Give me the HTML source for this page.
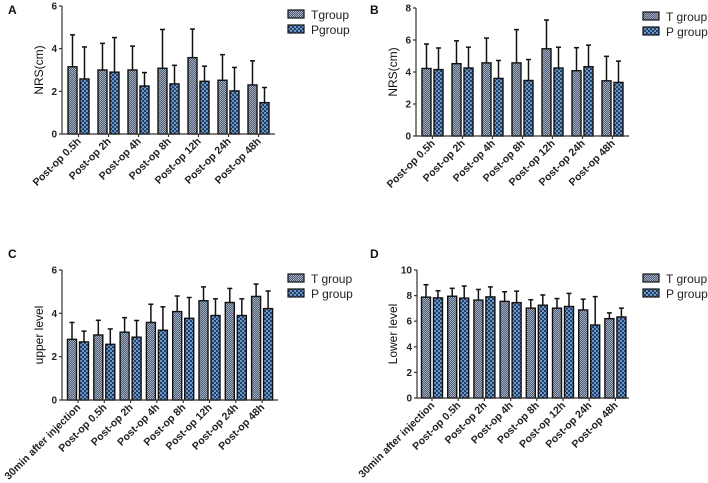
<!DOCTYPE html>
<html><head><meta charset="utf-8">
<style>
html,body{margin:0;padding:0;background:#fff;width:708px;height:483px;overflow:hidden}
svg{display:block;font-family:"Liberation Sans",Arial,sans-serif}
</style></head>
<body>
<svg id="fig" width="708" height="483" viewBox="0 0 708 483">
<defs>
<pattern id="patT" width="2" height="2" patternUnits="userSpaceOnUse">
<rect width="2" height="2" fill="#4e5c74"/><rect width="1" height="1" fill="#a3aec0"/><rect x="1" y="1" width="1" height="1" fill="#a3aec0"/>
</pattern>
<pattern id="patP" width="4" height="4" patternUnits="userSpaceOnUse">
<rect width="4" height="4" fill="#203f6a"/><rect x="0" y="0" width="2" height="2" fill="#6f97c4"/><rect x="2" y="2" width="2" height="2" fill="#6f97c4"/>
</pattern>
</defs>
</svg>
<script>
const catsAB = ["Post-op 0.5h","Post-op 2h","Post-op 4h","Post-op 8h","Post-op 12h","Post-op 24h","Post-op 48h"];
const catsCD = ["30min after injection","Post-op 0.5h","Post-op 2h","Post-op 4h","Post-op 8h","Post-op 12h","Post-op 24h","Post-op 48h"];
const aT = [3.15,3.0,3.0,3.08,3.58,2.52,2.3];
const aTerr = [4.65,4.25,4.12,4.9,4.92,3.72,3.43];
const aP = [2.58,2.9,2.25,2.35,2.47,2.02,1.47];
const aPerr = [4.08,4.52,2.88,3.22,3.18,3.12,2.18];
const bT = [4.22,4.52,4.57,4.57,5.45,4.08,3.45];
const bTerr = [5.75,5.95,6.12,6.65,7.25,5.52,4.98];
const bP = [4.15,4.25,3.6,3.47,4.25,4.33,3.35];
const bPerr = [5.5,5.55,4.72,4.78,5.55,5.68,4.68];
const cT = [2.8,3.0,3.13,3.58,4.08,4.58,4.5,4.78];
const cTerr = [3.58,3.68,3.8,4.42,4.8,5.22,5.15,5.35];
const cP = [2.68,2.57,2.9,3.22,3.77,3.9,3.9,4.22];
const cPerr = [3.18,3.28,3.67,4.3,4.73,4.67,4.67,5.03];
const dT = [7.88,7.95,7.65,7.55,7.02,7.02,6.88,6.2];
const dTerr = [8.85,8.57,8.48,8.3,7.68,7.77,7.72,6.65];
const dP = [7.82,7.8,7.9,7.45,7.25,7.15,5.7,6.33];
const dPerr = [8.38,8.75,8.68,8.35,8.05,8.17,7.92,7.02];
const ticksA = [0,2,4,6], ticksB = [0,2,4,6,8], ticksC = [0,2,4,6], ticksD = [0,2,4,6,8,10];

const NS = "http://www.w3.org/2000/svg";
const svg = document.getElementById('fig');
function mk(tag, attrs, parent, text){
  const e = document.createElementNS(NS, tag);
  for (const k in attrs) e.setAttribute(k, attrs[k]);
  if (text !== undefined) e.textContent = text;
  (parent||svg).appendChild(e);
  return e;
}
function panel(o){
  const g = mk('g', {});
  
  
  const y = v => o.y0 - (v / o.ymax) * (o.y0 - o.y1);
  const n = o.cats.length;
  const xc = i => o.c0 + i * o.step;
  const lt = mk('text', {x:o.lx, y:o.ly, 'font-size':12, 'font-weight':'bold', fill:'#111'}, g, o.letter);
  
  
  for (let i = 0; i < n; i++) {
    const sets = [[o.T[i], o.Te[i], 'url(#patT)', -1, 't'], [o.P[i], o.Pe[i], 'url(#patP)', 1, 'p']];
    for (const s of sets) {
      const bx = s[3] < 0 ? xc(i) - 1.5 - o.bw : xc(i) + 1.5;
      const mid = bx + o.bw / 2;
      const el = mk('line', {x1:mid, x2:mid, y1:y(s[0]), y2:y(s[1]), stroke:'#111', 'stroke-width':1.5}, g);
      
      
      const cap = mk('line', {x1:mid - 2.5, x2:mid + 2.5, y1:y(s[1]), y2:y(s[1]), stroke:'#111', 'stroke-width':1.5}, g);
      
      
      const r = mk('rect', {x:bx, y:y(s[0]), width:o.bw, height:o.y0 - y(s[0]), fill:s[2], stroke:'#111', 'stroke-width':1.4}, g);
      
      
    }
  }
  const ya = mk('line', {x1:o.ax, x2:o.ax, y1:o.y1, y2:o.y0, stroke:'#333', 'stroke-width':1.2}, g);
  
  
  const xa = mk('line', {x1:o.ax, x2:o.xend, y1:o.y0, y2:o.y0, stroke:'#333', 'stroke-width':1.2}, g);
  
  
  for (const t of o.ticks) {
    const tl = mk('line', {x1:o.ax - 3, x2:o.ax, y1:y(t), y2:y(t), stroke:'#333', 'stroke-width':1.2}, g);
    
    
    const tt = mk('text', {x:o.ax - 5, y:y(t) + 3.5, 'font-size':10, 'font-weight':'bold', 'text-anchor':'end', fill:'#222'}, g, String(t));
    
    
  }
  for (let i = 0; i < n; i++) {
    const tl = mk('line', {x1:xc(i), x2:xc(i), y1:o.y0, y2:o.y0 + 3, stroke:'#333', 'stroke-width':1.2}, g);
    
    
    const tx = xc(i) + 3, ty = o.y0 + 8;
    const t = mk('text', {x:tx, y:ty, 'font-size':10.5, 'font-weight':'bold', 'text-anchor':'end', fill:'#222', transform:'rotate(-45 ' + tx + ' ' + ty + ')'}, g, o.cats[i]);
    
    
  }
  const yl = mk('text', {x:o.ylx, y:(o.y0 + o.y1) / 2, 'font-size':12, 'text-anchor':'middle', fill:'#111', transform:'rotate(-90 ' + o.ylx + ' ' + ((o.y0 + o.y1) / 2) + ')'}, g, o.ylab);
  
  
  const names = o.leg;
  for (let k = 0; k < 2; k++) {
    const sw = mk('rect', {x:o.legx, y:o.legy + k * 15, width:16, height:8, fill:k ? 'url(#patP)' : 'url(#patT)', stroke:'#111', 'stroke-width':1.2}, g);
    
    
    const lt2 = mk('text', {x:o.legx + 23, y:o.legy + k * 15 + 9, 'font-size':12, fill:'#222'}, g, names[k]);
    
    
  }
}
panel({letter:'A', lx:8, ly:14, cats:catsAB, T:aT, Te:aTerr, P:aP, Pe:aPerr, ticks:ticksA, ymax:6,
  ax:62, xend:275, y0:134, y1:6, c0:78.5, step:30, bw:9, ylx:43, ylab:'NRS(cm)', leg:['Tgroup','Pgroup'], legx:288, legy:10});
panel({letter:'B', lx:370, ly:14, cats:catsAB, T:bT, Te:bTerr, P:bP, Pe:bPerr, ticks:ticksB, ymax:8,
  ax:416, xend:629, y0:136, y1:8, c0:432.5, step:30, bw:9, ylx:397, ylab:'NRS(cm)', leg:['T group','P group'], legx:643, legy:12});
panel({letter:'C', lx:8, ly:258, cats:catsCD, T:cT, Te:cTerr, P:cP, Pe:cPerr, ticks:ticksC, ymax:6,
  ax:62, xend:278, y0:400, y1:270, c0:78, step:26.3, bw:9, ylx:43, ylab:'upper level', leg:['T group','P group'], legx:288, legy:274});
panel({letter:'D', lx:370, ly:258, cats:catsCD, T:dT, Te:dTerr, P:dP, Pe:dPerr, ticks:ticksD, ymax:10,
  ax:417, xend:629, y0:398, y1:270, c0:432, step:26.2, bw:9, ylx:397, ylab:'Lower level', leg:['T group','P group'], legx:643, legy:274});
</script>
</body></html>
